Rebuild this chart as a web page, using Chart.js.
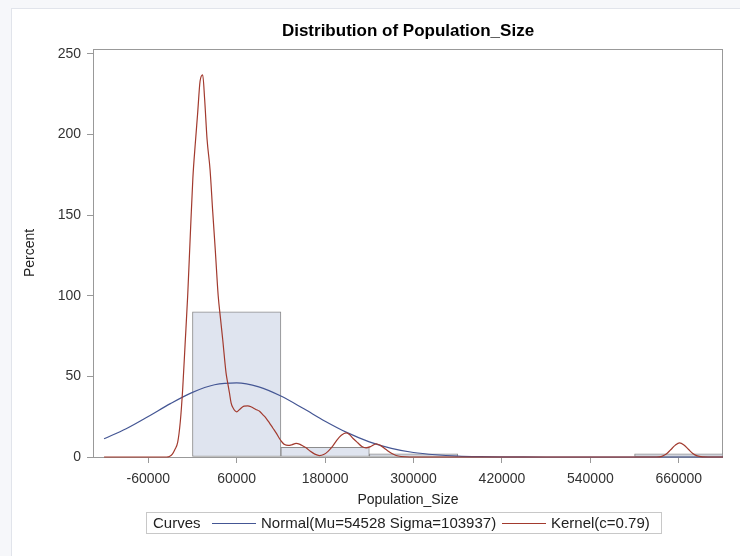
<!DOCTYPE html>
<html>
<head>
<meta charset="utf-8">
<title>Distribution of Population_Size</title>
<script src="https://cdn.jsdelivr.net/npm/chart.js@4.4.1/dist/chart.umd.min.js"></script>
<style>
  html, body { margin: 0; padding: 0; background: #f6f7fa; }
  #wrap { position: relative; width: 740px; height: 556px; overflow: hidden; }
  #page { position: absolute; left: 11px; top: 8px; width: 760px; height: 600px; background: #fff;
          border-left: 1px solid #e1e4eb; border-top: 1px solid #e1e4eb; }
  #chart { position: absolute; left: 0; top: 0; }
  #legend { position: absolute; left: 146px; top: 512px; width: 514px; height: 20px;
            border: 1px solid #c8c8c8; font: 15px "Liberation Sans", Arial, sans-serif; color: #222; }
  #legend span { position: absolute; top: 1px; white-space: nowrap; }
  #legend i { position: absolute; top: 10px; height: 0; border-top: 1px solid; }
</style>
</head>
<body>
<div id="wrap">
  <div id="page"></div>
  <canvas id="chart" width="740" height="556"></canvas>
  <div id="legend">
    <span style="left:6px">Curves</span>
    <i style="left:65px;width:44px;border-color:#445694"></i>
    <span style="left:114px">Normal(Mu=54528 Sigma=103937)</span>
    <i style="left:355px;width:44px;border-color:#a23a2e"></i>
    <span style="left:404px">Kernel(c=0.79)</span>
  </div>
</div>
<script>
// histogram bins (midpoints, percent)
const binMids = [60000, 180000, 300000, 660000];
const binPercent = [90, 6, 2, 2];

// normal curve
const normalX = [-120000, -90000, -60000, -30000, 0, 30000, 60000, 90000, 120000, 150000, 180000,
  210000, 240000, 270000, 300000, 330000, 360000, 390000, 420000, 450000, 480000, 510000, 540000,
  570000, 600000, 630000, 660000, 690000, 720000];
const normalY = [11.3, 17.5, 25.1, 33.1, 40.1, 44.8, 46.0, 43.5, 37.8, 30.2, 22.2,
  15.1, 9.4, 5.4, 2.8, 1.4, 0.6, 0.25, 0.1, 0.03, 0, 0, 0,
  0, 0, 0, 0, 0, 0];

// kernel curve
const kernelX = [-120000, -60000, -35000, -31400, -27300, -24000, -20100, -16500, -13300, -10000,
  -6500, -3000, 540, 3940, 7000, 10300, 13850, 16500, 19800, 23900, 27500, 31000, 34900, 38000,
  41000, 45600, 47800, 50100, 52400, 55000, 60000, 64000, 70000, 75000, 80000, 86000, 91000,
  96000, 100000, 104400, 109000, 113500, 118000, 122000, 125000, 130000, 135000, 140600, 146000,
  150000, 154200, 160000, 166000, 172300, 178000, 184000, 190300, 196000, 202000, 208500, 213000,
  218000, 224300, 230000, 235600, 242000, 249200, 255000, 262800, 270000, 276400, 283000, 295000,
  400000, 500000, 600000, 630000, 637000, 643000, 649000, 655000, 661000, 667000, 673000, 679000,
  685000, 692000, 700000, 720000];
const kernelY = [0, 0, 0, 0.3, 1.8, 4.5, 9, 22, 42, 70,
  100, 137, 173, 195, 213, 233, 237, 222, 197, 178, 152, 128, 100, 86,
  73, 52, 46, 40, 33.6, 30.5, 28, 29.5, 31.5, 31.7, 31, 29.5, 28.4,
  26, 24, 21.2, 18, 15, 11.5, 9, 7.7, 7.2, 7.6, 8.4, 7.8,
  6.8, 5.7, 3.5, 1.8, 0.9, 1.5, 3.5, 6.7, 10.5, 13.5, 15, 14,
  11.5, 8.8, 6.5, 5.7, 6.5, 8.2, 7.2, 4.6, 2.3, 0.9, 0.3, 0,
  0, 0, 0, 0, 0.4, 1.8, 4.5, 7.2, 8.8, 7.5, 4.8, 2.2,
  0.7, 0.1, 0, 0];

const xTicks = [-60000, 60000, 180000, 300000, 420000, 540000, 660000];
const yTicks = [0, 50, 100, 150, 200, 250];

const FONT = '"Liberation Sans", Arial, sans-serif';
const axisGrey = '#999';

// plot frame, drawn under the curves
const framePlugin = {
  id: 'frame',
  beforeDatasetsDraw(chart) {
    const { ctx, chartArea: a } = chart;
    ctx.save();
    ctx.strokeStyle = axisGrey;
    ctx.lineWidth = 1;
    ctx.strokeRect(a.left + 0.5, a.top + 0.5, a.right - a.left - 1, a.bottom - a.top);
    ctx.restore();
  }
};

const toPts = (xs, ys) => xs.map((x, i) => ({ x: x, y: ys[i] }));

new Chart(document.getElementById('chart'), {
  type: 'line',
  data: {
    datasets: [
      {
        type: 'bar',
        label: 'Histogram',
        data: toPts(binMids, binPercent),
        backgroundColor: '#dfe4ef',
        borderColor: '#8c8c8c',
        borderWidth: 1,
        borderSkipped: false,
        barPercentage: 1,
        categoryPercentage: 1,
        order: 3
      },
      {
        label: 'Normal(Mu=54528 Sigma=103937)',
        data: toPts(normalX, normalY),
        borderColor: '#445694',
        borderWidth: 1.2,
        pointRadius: 0,
        cubicInterpolationMode: 'monotone',
        clip: false,
        order: 2
      },
      {
        label: 'Kernel(c=0.79)',
        data: toPts(kernelX, kernelY),
        borderColor: '#a23a2e',
        borderWidth: 1.2,
        pointRadius: 0,
        cubicInterpolationMode: 'monotone',
        clip: false,
        order: 1
      }
    ]
  },
  options: {
    responsive: false,
    animation: false,
    layout: { padding: { left: 10, right: 17, top: 0, bottom: 0 } },
    plugins: {
      legend: { display: false },
      tooltip: { enabled: false },
      title: {
        display: true,
        fullSize: false,
        text: 'Distribution of Population_Size',
        color: '#000',
        font: { family: FONT, size: 17, weight: 'bold' },
        padding: { top: 21, bottom: 7.6 }
      }
    },
    scales: {
      x: {
        type: 'linear',
        min: -135000,
        max: 720000,
        offset: false,
        afterFit: s => { s.height = 99; },
        afterBuildTicks: s => { s.ticks = xTicks.map(v => ({ value: v })); },
        ticks: { color: '#333', font: { family: FONT, size: 14 }, padding: 8, maxRotation: 0,
                 autoSkip: false, callback: v => String(v) },
        grid: { display: true, offset: false, drawOnChartArea: false, drawTicks: true, tickLength: 6, color: axisGrey },
        border: { display: false },
        title: {
          display: true, text: 'Population_Size', color: '#222',
          font: { family: FONT, size: 14 }, padding: { top: 0, bottom: 47.6 }
        }
      },
      y: {
        type: 'linear',
        min: 0,
        max: 253,
        afterFit: s => { s.width = 83; },
        afterBuildTicks: s => { s.ticks = yTicks.map(v => ({ value: v })); },
        ticks: { color: '#333', font: { family: FONT, size: 14 }, padding: 6, callback: v => String(v) },
        grid: { display: true, offset: false, drawOnChartArea: false, drawTicks: true, tickLength: 6, color: axisGrey },
        border: { display: false },
        title: {
          display: true, text: 'Percent', color: '#222',
          font: { family: FONT, size: 14 }, padding: { top: 11.6, bottom: 0 }
        }
      }
    }
  },
  plugins: [framePlugin]
});
</script>
</body>
</html>
